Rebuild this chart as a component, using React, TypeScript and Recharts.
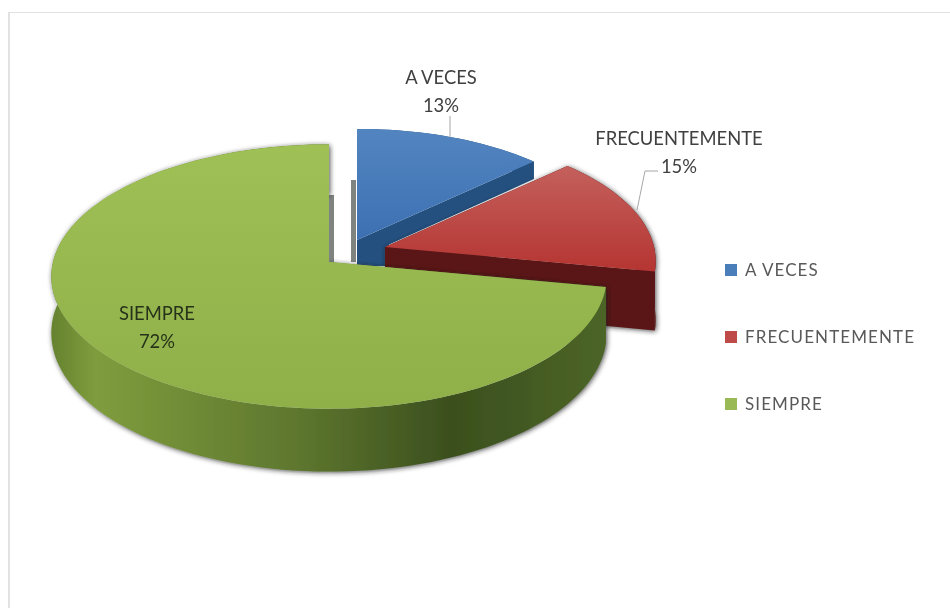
import { PieChart, Pie, Legend } from "recharts";

const CATEGORIES = ["A VECES", "FRECUENTEMENTE", "SIEMPRE"];
const VALUES = [13, 15, 72];

const TOP_FILLS = ["url(#topBlue)", "url(#topRed)", "url(#topGreen)"];
const WALL_FILLS = ["#24507f", "#5a1313", "url(#wallGreen)"];
const LEGEND_COLORS = ["#4a7ebb", "#be4b48", "#98b954"];

// how far each slice is pulled out of the pie, and its look
const SLICE_OFFSET = [
  [28, -22],
  [56, -15],
  [0, 0],
];
const SLICE_SCALE = [0.945, 0.975, 1];
const SLICE_DEPTH = [19, 58, 56];

const LABEL_POS = [
  [441, 77],
  [679, 138],
  [157, 313],
];
const LABEL_GAP = 28;

const FLATTEN = 0.473; // vertical squash of the tilted disc
const PERSPECTIVE = 0.11;

const chartData = CATEGORIES.map((name, i) => ({ name, value: VALUES[i] }));

function Slice3D(props: any) {
  const { cx, cy, outerRadius, startAngle, endAngle, index } = props;
  const [ox, oy] = SLICE_OFFSET[index];
  const radius = outerRadius * SLICE_SCALE[index];
  const depth = SLICE_DEPTH[index];

  const project = (angle: number, r: number, drop: number) => {
    const u = Math.cos((angle * Math.PI) / 180) * r;
    const v = -Math.sin((angle * Math.PI) / 180) * r;
    const w = 1 / (1 - PERSPECTIVE * v);
    return [
      cx + ox + u * radius * w,
      cy + oy + v * radius * FLATTEN * w + drop * w,
    ];
  };

  const arc = (drop: number) => {
    const pts = [];
    const steps = Math.max(8, Math.ceil(Math.abs(startAngle - endAngle) / 2));
    for (let i = 0; i <= steps; i++) {
      pts.push(project(startAngle + ((endAngle - startAngle) * i) / steps, 1, drop));
    }
    return pts;
  };

  const toPath = (pts: number[][]) =>
    "M" + pts.map((p) => p[0].toFixed(1) + "," + p[1].toFixed(1)).join("L") + "Z";

  const apex = project(0, 0, 0);
  const apexLow = project(0, 0, depth);
  const cut = (angle: number) =>
    toPath([apex, apexLow, project(angle, 1, depth), project(angle, 1, 0)]);
  const outer = toPath([...arc(0), ...arc(depth).reverse()]);

  // thin grey shadow left by the pulled apart slices
  const shadowX = index === 0 ? apex[0] - 6 : apex[0];
  const shadowTop = index === 0 ? 180 : 195;

  return (
    <g>
      {index !== 1 && (
        <rect
          x={shadowX}
          y={shadowTop}
          width={5}
          height={262 - shadowTop}
          fill="#7f8480"
        />
      )}
      {index === 0 && (
        // the blue wall runs on behind the red slice, down to the green one
        <rect x={apex[0]} y={apex[1]} width={32} height={26} fill={WALL_FILLS[0]} />
      )}
      <g filter={index === 0 ? undefined : "url(#softShadow)"}>
        <path d={cut(startAngle)} fill={WALL_FILLS[index]} />
        <path d={cut(endAngle)} fill={WALL_FILLS[index]} />
        <path d={outer} fill={WALL_FILLS[index]} />
      </g>
      <path d={toPath([apex, ...arc(0)])} fill={TOP_FILLS[index]} />
    </g>
  );
}

function SliceLabel(props: any) {
  const { index, name, percent } = props;
  const [x, y] = LABEL_POS[index];
  return (
    <g fontFamily="Lato" fontSize={18.4} fill={index === 2 ? "#26331a" : "#404040"} textAnchor="middle">
      {index === 0 && <path d="M450,116V137" stroke="#a6a6a6" fill="none" />}
      {index === 1 && <path d="M658,171H645L637,210" stroke="#a6a6a6" fill="none" />}
      <text x={x} y={y} dominantBaseline="central">
        {name}
      </text>
      <text x={x} y={y + LABEL_GAP} dominantBaseline="central">
        {Math.round(percent * 100)}%
      </text>
    </g>
  );
}

function SideLegend({ payload }: any) {
  return (
    <div style={{ fontFamily: "Lato", fontSize: 17, color: "#595959", letterSpacing: 1.1 }}>
      {(payload || []).map((item: any, i: number) => (
        <div
          key={item.value}
          style={{ display: "flex", alignItems: "center", height: 67 }}
        >
          <span
            style={{
              width: 12,
              height: 12,
              marginRight: 8,
              background: LEGEND_COLORS[i],
            }}
          />
          {item.value}
        </div>
      ))}
    </div>
  );
}

export default function App() {
  return (
    <div style={{ position: "absolute", left: 0, top: 0, width: 950, height: 608, background: "#fff" }}>
      <div
        style={{
          position: "absolute",
          left: 8,
          top: 12,
          width: 942,
          height: 596,
          borderTop: "1px solid #e2e2e2",
          borderLeft: "2px solid #e2e2e2",
          boxSizing: "border-box",
        }}
      />
      <PieChart
        width={950}
        height={608}
        margin={{ top: 0, right: 0, bottom: 0, left: 0 }}
        style={{ position: "absolute", left: 0, top: 0, filter: "blur(0.4px)" }}
      >
        <defs>
          <linearGradient id="topBlue" x1="0" y1="0" x2="0" y2="1">
            <stop offset="0" stopColor="#5285c0" />
            <stop offset="1" stopColor="#3d70b2" />
          </linearGradient>
          <linearGradient id="topRed" x1="0" y1="0" x2="0" y2="1">
            <stop offset="0" stopColor="#c4605c" />
            <stop offset="1" stopColor="#b53532" />
          </linearGradient>
          <linearGradient id="topGreen" x1="0" y1="0" x2="0" y2="1">
            <stop offset="0" stopColor="#9fc055" />
            <stop offset="1" stopColor="#8fb049" />
          </linearGradient>
          <linearGradient id="wallGreen" x1="0" y1="0" x2="1" y2="0">
            <stop offset="0" stopColor="#65822f" />
            <stop offset="0.08" stopColor="#7f9d3d" />
            <stop offset="0.45" stopColor="#5d762e" />
            <stop offset="0.72" stopColor="#3b4f1e" />
            <stop offset="1" stopColor="#4c6526" />
          </linearGradient>
          <filter id="softShadow" x="-5%" y="-5%" width="110%" height="115%">
            <feDropShadow dx="1" dy="1" stdDeviation="2.5" floodColor="#222" floodOpacity="0.8" />
          </filter>
        </defs>
        <Pie
          data={chartData}
          dataKey="value"
          nameKey="name"
          cx={329}
          cy={262}
          outerRadius={276}
          startAngle={90}
          endAngle={-270}
          stroke="none"
          isAnimationActive={false}
          shape={Slice3D}
          label={SliceLabel}
          labelLine={false}
        />
        <Legend
          layout="vertical"
          content={<SideLegend />}
          wrapperStyle={{ left: 725, top: 236, width: 220 }}
        />
      </PieChart>
    </div>
  );
}
